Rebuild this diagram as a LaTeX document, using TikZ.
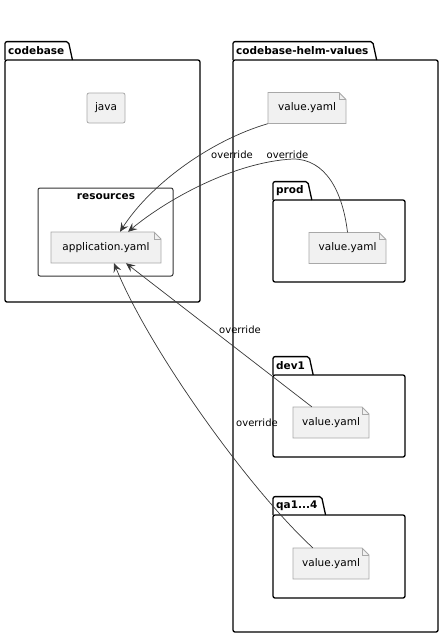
\documentclass[tikz,border=0pt]{standalone}
\usepackage{fontspec}
\setmainfont{DejaVu Sans}
\usetikzlibrary{arrows.meta}
\definecolor{notefill}{HTML}{F1F1F1}
\definecolor{noteline}{HTML}{A8A8A8}
\definecolor{edgeline}{HTML}{383838}
\tikzset{
  pkgline/.style={black, line width=1.3pt, rounded corners=2pt},
  pkgtab/.style={anchor=south west, inner sep=0pt, minimum height=18pt, font=\bfseries\fontsize{10.5}{12}\selectfont},
  filebody/.style={draw=noteline, fill=notefill, line width=0.8pt},
  filelabel/.style={inner sep=0pt, font=\fontsize{10.5}{12}\selectfont},
  javabox/.style={draw=noteline, fill=notefill, line width=0.8pt, rounded corners=2pt, inner sep=0pt, minimum width=38pt, minimum height=30pt, font=\fontsize{10.5}{12}\selectfont},
  overrides/.style={edgeline, line width=0.7pt, -{Stealth[length=9pt,width=8pt,inset=3.5pt]}},
  edgelabel/.style={inner sep=0pt, font=\fontsize{10}{12}\selectfont}
}
% name, centre x, centre y, width, text
\newcommand{\filenote}[5]{%
  \draw [filebody] (#2-#4/2,#3-15.5) -- (#2+#4/2-7,#3-15.5) -- (#2+#4/2,#3-8.5) -- (#2+#4/2,#3+15.5) -- (#2-#4/2,#3+15.5) -- cycle;
  \draw [noteline, line width=0.6pt] (#2+#4/2-7,#3-15.5) -- (#2+#4/2-7,#3-8.5) -- (#2+#4/2,#3-8.5);
  \node [filelabel, minimum width=#4, minimum height=31] (#1) at (#2,#3) {#5};
}
% name, left, tab top, right, bottom, label
\newcommand{\pkgbox}[6]{%
  \node [pkgtab] (#1) at (#2,#3+18) {\kern3pt#6\kern8pt};
  \draw [pkgline] (#1.south west) -- (#1.north west) -- ([xshift=-4pt]#1.north east) -- (#1.south east);
  \draw [pkgline] (#2,#3+18) rectangle (#4,#5);
}
\begin{document}
\begin{tikzpicture}[x=1pt, y=-1pt]
\useasboundingbox (0,0) rectangle (444,637);
\pkgbox{codebase}{5}{42}{200}{302}{codebase}
\pkgbox{helmvalues}{233}{42}{438}{632}{codebase-helm-values}
\pkgbox{prod}{273}{182}{405}{282}{prod}
\pkgbox{dev}{273}{357}{405}{457}{dev1}
\pkgbox{qa}{273}{497}{405}{598}{qa1...4}
\draw [black!80, line width=1pt, rounded corners=2pt] (38,188) rectangle (173,276);
\node [pkgtab, anchor=center] (resources) at (106,197) {resources};
\node [javabox] (java) at (106,108) {java};
\filenote{app}{106}{247.5}{110}{application.yaml}
\filenote{topval}{307}{108}{78}{value.yaml}
\filenote{prodval}{347.5}{248}{77}{value.yaml}
\filenote{devval}{331}{422.5}{76}{value.yaml}
\filenote{qaval}{331}{563.5}{76}{value.yaml}
\coordinate (bend) at (293,159);
\draw [overrides] (topval.south west) .. controls +(-58,17) and +(30,-47) .. ([xshift=14pt]app.north);
\draw [overrides] (prodval.north) .. controls +(-5,-42) and +(32,0) .. (bend) .. controls +(-60,3) and +(37,-31) .. ([xshift=22pt]app.north);
\draw [overrides] ([xshift=19pt]devval.north west) -- ([xshift=20pt]app.south);
\draw [overrides] ([xshift=20pt]qaval.north west) .. controls +(-63,-58) and +(36,88) .. ([xshift=8pt]app.south);
\node [edgelabel] (ov1) at (232,155) {override};
\node [edgelabel] (ov2) at (287.5,155) {override};
\node [edgelabel] (ov3) at (240,330) {override};
\node [edgelabel] (ov4) at (257,423) {override};
\end{tikzpicture}
\end{document}
